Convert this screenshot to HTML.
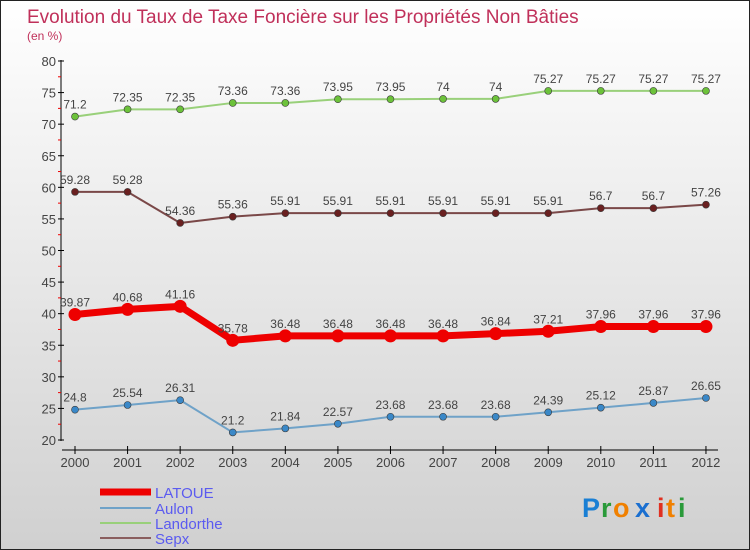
<!DOCTYPE html>
<html><head><meta charset="utf-8"><style>
body{margin:0}
svg{display:block;font-family:"Liberation Sans",sans-serif}
</style></head><body>
<svg id="c" width="750" height="550" xmlns="http://www.w3.org/2000/svg">
<defs><linearGradient id="bg" x1="0" y1="0" x2="0" y2="1"><stop offset="0" stop-color="#ffffff"/><stop offset="1" stop-color="#d0d0d0"/></linearGradient></defs>
<rect x="0.5" y="0.5" width="749" height="549" fill="url(#bg)" stroke="#222"/>
<text x="27" y="23" font-size="19" fill="#c0305a">Evolution du Taux de Taxe Foncière sur les Propriétés Non Bâties</text>
<text x="27" y="40" font-size="12" fill="#c0305a">(en %)</text>
<g id="axes"></g><g id="series"></g>
<g>
<line x1="100" y1="492" x2="151" y2="492" stroke="#ee0000" stroke-width="7"/>
<text x="155" y="498" font-size="15" fill="#5b5bf0">LATOUE</text>
<line x1="100" y1="508" x2="151" y2="508" stroke="#6fa2c8" stroke-width="2"/>
<text x="155" y="514" font-size="15" fill="#5b5bf0">Aulon</text>
<line x1="100" y1="523" x2="151" y2="523" stroke="#99d07a" stroke-width="2"/>
<text x="155" y="529" font-size="15" fill="#5b5bf0">Landorthe</text>
<line x1="100" y1="538" x2="151" y2="538" stroke="#8a5e5e" stroke-width="2"/>
<text x="155" y="544" font-size="15" fill="#5b5bf0">Sepx</text>
</g>
<g font-size="27" font-weight="bold">
<text x="582" y="517" fill="#1a7fd4">P</text><text x="601" y="517" fill="#2a9a3a">r</text><text x="613" y="517" fill="#f08000">o</text><text x="635" y="517" fill="#1a6fd0">x</text><text x="657" y="517" fill="#e03020">i</text><text x="666" y="517" fill="#f08000">t</text><text x="678" y="517" fill="#2a9a3a">i</text>
</g>
</svg>
<script>
const years=["2000","2001","2002","2003","2004","2005","2006","2007","2008","2009","2010","2011","2012"];
const yTicks=[20,25,30,35,40,45,50,55,60,65,70,75,80];
const latoue=[39.87,40.68,41.16,35.78,36.48,36.48,36.48,36.48,36.84,37.21,37.96,37.96,37.96];
const aulon=[24.8,25.54,26.31,21.2,21.84,22.57,23.68,23.68,23.68,24.39,25.12,25.87,26.65];
const landorthe=[71.2,72.35,72.35,73.36,73.36,73.95,73.95,74,74,75.27,75.27,75.27,75.27];
const sepx=[59.28,59.28,54.36,55.36,55.91,55.91,55.91,55.91,55.91,55.91,56.7,56.7,57.26];
const NS="http://www.w3.org/2000/svg";
const xs=i=>75+i*52.58, ys=v=>440-(v-20)*(379/60);
function mk(t,a,p){const e=document.createElementNS(NS,t);for(const k in a)e.setAttribute(k,a[k]);p.appendChild(e);return e;}
const ax=document.getElementById('axes'), sg=document.getElementById('series');
let l=mk('line',{x1:61,y1:60,x2:61,y2:441,stroke:'#000'},ax);


l=mk('line',{x1:62,y1:450,x2:718,y2:450,stroke:'#000'},ax);


yTicks.forEach((v,i)=>{
  mk('line',{x1:58,y1:ys(v),x2:64,y2:ys(v),stroke:'#000'},ax);
  if(i<yTicks.length-1) mk('line',{x1:58,y1:ys(v+2.5),x2:61,y2:ys(v+2.5),stroke:'#e00'},ax);
  const t=mk('text',{x:56,y:ys(v)+5,'text-anchor':'end','font-size':13,fill:'#444'},ax);
  t.textContent=v;
  
  
});
years.forEach((y,i)=>{
  mk('line',{x1:xs(i),y1:446,x2:xs(i),y2:454,stroke:'#000'},ax);
  const t=mk('text',{x:xs(i),y:467,'text-anchor':'middle','font-size':13,fill:'#444'},ax);
  t.textContent=y;
  
  
});
function series(d,name,col,w,r,dot){
  const g=mk('g',{},sg);
  
  
  const p=mk('polyline',{points:d.map((v,i)=>xs(i)+','+ys(v)).join(' '),fill:'none',stroke:col,'stroke-width':w,'stroke-linejoin':'round'},g);
  
  
  d.forEach((v,i)=>{
    const c=mk('circle',{cx:xs(i),cy:ys(v),r:r,fill:dot,stroke:dot==col?'none':'#3a3a3a','stroke-width':0.6},g);
    
    
    const t=mk('text',{x:xs(i),y:ys(v)-8,'text-anchor':'middle','font-size':12,fill:'#444'},g);
    t.textContent=v;
    
    
  });
}
series(landorthe,'landorthe','#99d07a',2,3.5,'#6cc23a');
series(sepx,'sepx','#7a4848',2,3.5,'#6a2020');
series(aulon,'aulon','#6fa2c8',2,3.5,'#3a88c8');
series(latoue,'latoue','#ee0000',7,6.5,'#ee0000');
</script>
</body></html>
